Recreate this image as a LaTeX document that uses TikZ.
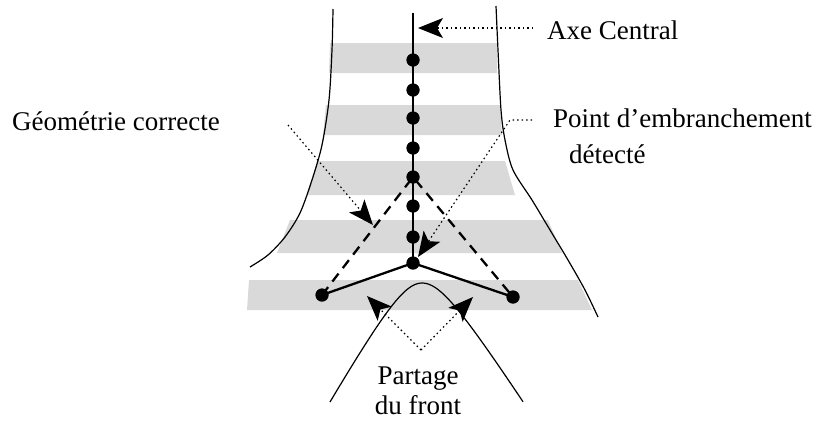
\documentclass[tikz,border=0pt]{standalone}
\usepackage{fontspec}
\setmainfont{Liberation Serif}
\usetikzlibrary{arrows.meta}
\definecolor{bandgray}{HTML}{D9D9D9}
\tikzset{
  band/.style={fill=bandgray,draw=none},
  edge/.style={line width=1.2pt},
  axisline/.style={line width=2.3pt},
  branch/.style={line width=2.3pt},
  guess/.style={line width=2.3pt,dash pattern=on 10pt off 7pt},
  pointer/.style={line width=1.2pt,dash pattern=on 1.5pt off 3pt,
    arrows={-Stealth[length=25pt,width=20pt,inset=6pt]}},
  dotn/.style={circle,fill=black,minimum size=13pt,inner sep=0pt},
  lbl/.style={inner sep=0pt,font=\fontsize{27}{32}\selectfont}}
\begin{document}
\begin{tikzpicture}[x=1pt,y=-1pt]
\useasboundingbox (0,0) rectangle (819,421);
% bands
\fill[band] (330,43) -- (497,43) -- (497,73) -- (329,73) -- cycle;
\fill[band] (326,105) -- (500,105) -- (502,135) -- (323,135) -- cycle;
\fill[band] (317,161) -- (505,161) -- (515,195) -- (307,195) -- cycle;
\fill[band] (290,220) -- (548,220) -- (562,253) -- (277,253) -- cycle;
\fill[band] (249,280) -- (578,280) -- (592,310) -- (247,310) -- cycle;
% boundary curves
\draw[edge] plot[smooth] coordinates {(333,9) (332,50) (329,100) (322,145) (312,180) (300,213) (285,237) (268,255) (250,267)};
\draw[edge] plot[smooth] coordinates {(496,6) (498,50) (501,110) (505,140) (513,170) (532,200) (550,230) (568,260) (585,290) (598,317)};
\draw[edge] plot[domain=-92:0,samples=50] ({422+\x},{283+1.75*(sqrt(\x*\x+800)-28.28)})
  -- plot[domain=0:101,samples=50] ({422+\x},{283+1.55*(sqrt(\x*\x+800)-28.28)});
% skeleton nodes
\coordinate (top) at (413,13);
\node[dotn] (d1) at (413,60) {};
\node[dotn] (d2) at (413,90) {};
\node[dotn] (d3) at (413,118) {};
\node[dotn] (d4) at (413,148) {};
\node[dotn] (d5) at (413,177) {};
\node[dotn] (d6) at (413,206) {};
\node[dotn] (d7) at (413,237) {};
\node[dotn] (j) at (413,263) {};
\node[dotn] (l) at (322,295) {};
\node[dotn] (r) at (513,297) {};
% lines
\draw[guess] (l.center) -- (d5.center) -- (r.center);
\draw[branch] (l.center) -- (j.center) -- (r.center);
\draw[axisline] (top) -- (j.center);
\foreach \n in {d1,d2,d3,d4,d5,d6,d7,j,l,r} \node[dotn] at (\n) {};
% labels
\node[lbl,anchor=base west] (axe) at (547,39) {Axe Central};
\node[lbl,anchor=base west] (pt) at (553,127) {Point d’embranchement};
\node[lbl,anchor=base west] (det) at (569,163) {détecté};
\node[lbl,anchor=base west] (geo) at (12,130) {Géométrie correcte};
\node[lbl,anchor=base] (part) at (418,384) {Partage};
\node[lbl,anchor=base] (front) at (418,414) {du front};
% pointers
\coordinate (axeS) at (533,28);
\coordinate (axeT) at (418,28);
\coordinate (ptS) at (532,120);
\coordinate (ptK) at (510,120);
\coordinate (ptT) at (418,257);
\coordinate (geoS) at (288,125);
\coordinate (geoT) at (373,225);
\coordinate (partV) at (421,350);
\coordinate (partL) at (367,296);
\coordinate (partR) at (473,297);
\draw[pointer] (axeS) -- (axeT);
\draw[pointer] (ptS) -- (ptK) -- (ptT);
\draw[pointer] (geoS) -- (geoT);
\draw[pointer] (partV) -- (partL);
\draw[pointer] (partV) -- (partR);
\end{tikzpicture}
\end{document}
